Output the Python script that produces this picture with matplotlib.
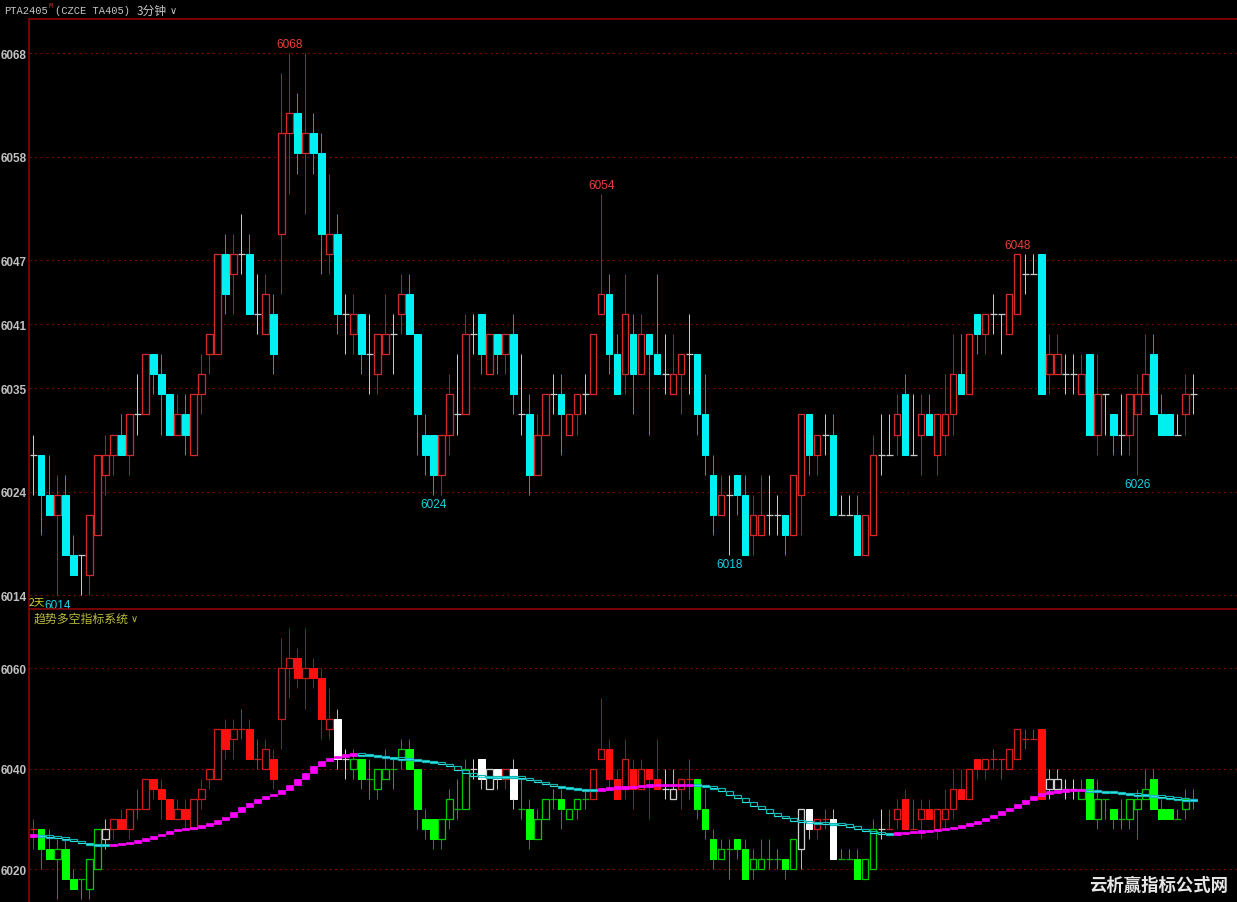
import matplotlib
matplotlib.use('Agg')
import matplotlib.pyplot as plt
from matplotlib.patches import Rectangle

W, H = 1237, 903

# ---- data (3 minute bars, PTA2405) ----
opens = [6028, 6028, 6024, 6022, 6024, 6018, 6018, 6016, 6020, 6026,
         6028, 6030, 6028, 6032, 6032, 6038, 6036, 6034, 6030, 6032,
         6028, 6034, 6038, 6038, 6048, 6046, 6048, 6048, 6042, 6040,
         6042, 6050, 6060, 6062, 6058, 6060, 6058, 6048, 6050, 6042,
         6040, 6042, 6038, 6036, 6038, 6040, 6042, 6044, 6040, 6030,
         6030, 6026, 6030, 6032, 6032, 6040, 6042, 6036, 6040, 6038,
         6040, 6032, 6032, 6026, 6030, 6034, 6034, 6030, 6032, 6034,
         6034, 6042, 6044, 6038, 6036, 6040, 6036, 6040, 6038, 6036,
         6034, 6036, 6038, 6038, 6032, 6026, 6022, 6024, 6026, 6024,
         6020, 6020, 6022, 6022, 6022, 6020, 6024, 6032, 6028, 6030,
         6030, 6022, 6022, 6022, 6018, 6020, 6028, 6028, 6030, 6034,
         6028, 6030, 6032, 6028, 6030, 6032, 6036, 6034, 6042, 6040,
         6042, 6042, 6040, 6042, 6046, 6046, 6048, 6036, 6036, 6036,
         6036, 6034, 6038, 6030, 6034, 6032, 6030, 6030, 6032, 6034,
         6038, 6032, 6032, 6030, 6032, 6034]
highs = [6030, 6028, 6028, 6026, 6026, 6020, 6018, 6022, 6028, 6030,
         6030, 6032, 6032, 6036, 6038, 6038, 6038, 6034, 6034, 6034,
         6034, 6038, 6040, 6048, 6050, 6050, 6052, 6050, 6046, 6046,
         6044, 6066, 6068, 6064, 6068, 6062, 6060, 6056, 6052, 6044,
         6044, 6042, 6042, 6040, 6044, 6042, 6046, 6046, 6040, 6032,
         6030, 6030, 6036, 6038, 6042, 6042, 6042, 6040, 6040, 6040,
         6042, 6038, 6034, 6032, 6034, 6036, 6036, 6032, 6034, 6036,
         6040, 6054, 6046, 6040, 6046, 6042, 6042, 6040, 6046, 6040,
         6040, 6038, 6042, 6038, 6036, 6028, 6026, 6026, 6026, 6026,
         6024, 6026, 6026, 6024, 6022, 6026, 6032, 6032, 6030, 6032,
         6032, 6024, 6024, 6024, 6022, 6030, 6032, 6032, 6034, 6036,
         6034, 6034, 6034, 6032, 6036, 6040, 6040, 6040, 6042, 6042,
         6044, 6042, 6044, 6048, 6048, 6048, 6048, 6040, 6040, 6038,
         6038, 6038, 6038, 6038, 6034, 6032, 6034, 6034, 6036, 6040,
         6040, 6034, 6032, 6032, 6036, 6036]
lows = [6024, 6020, 6022, 6014, 6018, 6016, 6014, 6014, 6020, 6024,
        6026, 6028, 6026, 6030, 6032, 6034, 6030, 6030, 6030, 6028,
        6028, 6032, 6036, 6038, 6042, 6042, 6046, 6042, 6040, 6040,
        6036, 6044, 6054, 6056, 6052, 6056, 6046, 6046, 6040, 6038,
        6038, 6036, 6034, 6034, 6038, 6036, 6040, 6040, 6028, 6026,
        6024, 6024, 6028, 6030, 6032, 6038, 6036, 6036, 6036, 6036,
        6032, 6030, 6024, 6026, 6030, 6032, 6028, 6030, 6030, 6032,
        6034, 6042, 6036, 6034, 6034, 6032, 6036, 6030, 6036, 6034,
        6034, 6032, 6034, 6030, 6026, 6020, 6022, 6018, 6022, 6018,
        6018, 6020, 6020, 6020, 6018, 6020, 6020, 6026, 6026, 6028,
        6022, 6022, 6022, 6018, 6018, 6020, 6026, 6028, 6028, 6028,
        6028, 6026, 6030, 6026, 6028, 6030, 6034, 6034, 6038, 6038,
        6040, 6038, 6040, 6042, 6044, 6046, 6034, 6034, 6036, 6034,
        6034, 6034, 6030, 6028, 6030, 6028, 6028, 6028, 6026, 6034,
        6032, 6030, 6030, 6030, 6030, 6032]
closes = [6028, 6024, 6022, 6024, 6018, 6016, 6018, 6022, 6028, 6028,
          6030, 6028, 6032, 6032, 6038, 6036, 6034, 6030, 6032, 6030,
          6034, 6036, 6040, 6048, 6044, 6048, 6048, 6042, 6042, 6044,
          6038, 6060, 6062, 6058, 6060, 6058, 6050, 6050, 6042, 6042,
          6042, 6038, 6038, 6040, 6040, 6040, 6044, 6040, 6032, 6028,
          6026, 6030, 6034, 6032, 6040, 6040, 6038, 6040, 6038, 6040,
          6034, 6032, 6026, 6030, 6034, 6034, 6032, 6032, 6034, 6034,
          6040, 6044, 6038, 6034, 6042, 6036, 6040, 6038, 6036, 6036,
          6036, 6038, 6038, 6032, 6028, 6022, 6024, 6024, 6024, 6018,
          6022, 6022, 6022, 6022, 6020, 6026, 6032, 6028, 6030, 6030,
          6022, 6022, 6022, 6018, 6022, 6028, 6028, 6028, 6032, 6028,
          6028, 6032, 6030, 6032, 6032, 6036, 6034, 6040, 6040, 6042,
          6042, 6042, 6044, 6048, 6046, 6046, 6034, 6038, 6038, 6036,
          6036, 6036, 6030, 6034, 6034, 6030, 6030, 6034, 6034, 6036,
          6032, 6030, 6030, 6030, 6034, 6034]

# indicator panel: trend state of each bar (r = long, g = short, w = neutral)
trend = ("rggggggggw" "rrrrrrrrrr" "rrrrrrrrrr" "rrrrrrrrww" "gggggggggg"
         "gggggwwwwr" "wggggggggg" "rrrrrrrrrw" "wrrggggggg" "ggggggwwrr"
         "wgggggwrrr" "rrrrrrrrrr" "rrrrrrrwww" "wggggggggg" "gggggg")

# indicator panel: trend line
trend_line = [6026.7, 6026.6, 6026.5, 6026.3, 6026.0, 6025.6, 6025.2, 6025.0, 6024.8, 6024.8,
              6024.9, 6025.1, 6025.4, 6025.7, 6026.1, 6026.6, 6027.1, 6027.7, 6027.9, 6028.1,
              6028.3, 6028.7, 6029.1, 6029.8, 6030.5, 6031.4, 6032.4, 6033.2, 6033.9, 6034.5,
              6035.0, 6035.7, 6036.7, 6038.0, 6039.2, 6040.5, 6041.5, 6042.1, 6042.6, 6042.8,
              6042.9, 6042.8, 6042.7, 6042.5, 6042.3, 6042.1, 6042.0, 6041.9, 6041.7, 6041.5,
              6041.3, 6040.9, 6040.5, 6039.7, 6039.1, 6038.6, 6038.4, 6038.4, 6038.4, 6038.4,
              6038.3, 6038.2, 6037.8, 6037.4, 6036.9, 6036.6, 6036.3, 6036.1, 6035.9, 6035.8,
              6035.8, 6035.9, 6036.2, 6036.3, 6036.3, 6036.5, 6036.6, 6036.7, 6036.8, 6036.8,
              6036.8, 6036.8, 6036.8, 6036.7, 6036.5, 6036.1, 6035.5, 6034.8, 6034.1, 6033.4,
              6032.6, 6032.0, 6031.3, 6030.7, 6030.2, 6029.7, 6029.4, 6029.3, 6029.2, 6029.1,
              6029.0, 6028.9, 6028.5, 6028.1, 6027.6, 6027.3, 6027.1, 6027.1, 6027.2, 6027.3,
              6027.5, 6027.6, 6027.7, 6027.9, 6028.1, 6028.4, 6028.7, 6029.1, 6029.6, 6030.2,
              6030.8, 6031.6, 6032.2, 6033.0, 6033.8, 6034.6, 6035.2, 6035.4, 6035.6, 6035.8,
              6035.8, 6035.8, 6035.6, 6035.5, 6035.4, 6035.3, 6035.1, 6035.0, 6034.8, 6034.7,
              6034.6, 6034.4, 6034.2, 6034.0, 6033.8, 6033.7]

# price axis of the main panel: golden section levels between low and high
range_lo, range_hi = 6014, 6068
fib_levels = [0, 0.191, 0.382, 0.5, 0.618, 0.809, 1.0]
fib_labels = ['6014', '6024', '6035', '6041', '6047', '6058', '6068']
sub_ticks = [6020, 6040, 6060]

high_marks = [(32, 6068), (71, 6054), (123, 6048)]
low_marks = [(3, 6014), (50, 6024), (87, 6018), (138, 6026)]

BG = 'black'
FRAME = '#8c0000'
GRID = '#7a0000'
AXTXT = '#c0c0c0'
px = 0.72  # one pixel in points at dpi 100


def draw_candles(ax, colors, width=0.8):
    # colors[i] = (body_up_edge, body_down_fill, wick, doji)
    for i, (o, h, l, c) in enumerate(zip(opens, highs, lows, closes)):
        up_edge, dn_fill, wick, flat = colors[i]
        top, bot = max(o, c), min(o, c)
        if c == o:
            wick = flat
        if h > top:
            ax.vlines(i, top, h, color=wick, lw=px)
        if l < bot:
            ax.vlines(i, l, bot, color=wick, lw=px)
        if c > o:
            ax.add_patch(Rectangle((i - width / 2, o), width, c - o, facecolor=BG,
                                   edgecolor=up_edge, lw=px * 1.3))
        elif c < o:
            ax.add_patch(Rectangle((i - width / 2, c), width, o - c, facecolor=dn_fill,
                                   edgecolor=dn_fill, lw=px))
        else:
            ax.hlines(o, i - width / 2, i + width / 2, color=flat, lw=px * 1.3)


def style_axes(ax):
    ax.set_facecolor(BG)
    for s in ['right', 'bottom']:
        ax.spines[s].set_visible(False)
    for s in ['left', 'top']:
        ax.spines[s].set_color(FRAME)
        ax.spines[s].set_linewidth(1.2)
    ax.set_xticks([])
    ax.tick_params(axis='y', length=0, pad=1.5, labelcolor=AXTXT, labelsize=8.5)
    for lab in ax.get_yticklabels():
        lab.set_fontweight('bold')
        lab.set_family('Liberation Sans')


fig = plt.figure(figsize=(W / 100, H / 100), dpi=100, facecolor=BG)
n = len(opens)
xlim = ((29 - 33.3) / 8, (W - 33.3) / 8)

# ---- main panel ----
ax1 = fig.add_axes([29 / W, 1 - 608 / H, 1 - 29 / W, (608 - 20) / H])
ax1.set_xlim(*xlim)
ax1.set_ylim(6012.82, 6071.39)
top_cols = [('#d42a2a', '#00f0f0', '#b01e1e' if c >= o else '#00a8a8', '#c8c8c8')
            for o, c in zip(opens, closes)]
draw_candles(ax1, top_cols)
lvls = [range_lo + f * (range_hi - range_lo) for f in fib_levels]
for v in lvls:
    ax1.axhline(v, color=GRID, lw=0.8, ls=(0, (2, 3)), zorder=0)
ax1.set_yticks(lvls)
ax1.set_yticklabels(fib_labels)
style_axes(ax1)

for i, v in high_marks:
    ax1.annotate(str(v), (i, v), xytext=(0, 2), textcoords='offset points',
                 ha='center', va='bottom', color='#e8403c', fontsize=8.5,
                 family='Liberation Sans')
for i, v in low_marks:
    ax1.annotate(str(v), (i, v), xytext=(0, -2.5), textcoords='offset points',
                 ha='center', va='top', color='#19d2e0', fontsize=8.5,
                 family='Liberation Sans', zorder=6)

# ---- indicator panel ----
ax2 = fig.add_axes([29 / W, 0, 1 - 29 / W, (H - 610) / H])
ax2.set_xlim(*xlim)
ax2.set_ylim(6013.5, 6071.8)
palette = {'r': ('#c81e1e', '#ff1010', '#a01414', '#c81e1e'),
           'g': ('#00c800', '#00ff00', '#00a000', '#00b400'),
           'w': ('#d0d0d0', '#ffffff', '#b4b4b4', '#d0d0d0')}
draw_candles(ax2, [palette[t] for t in trend])
for v in sub_ticks:
    ax2.axhline(v, color=GRID, lw=0.8, ls=(0, (2, 3)), zorder=0)
ax2.set_yticks(sub_ticks)
ax2.set_yticklabels([str(v) for v in sub_ticks])
style_axes(ax2)

rising = True
for i in range(n):
    prev = trend_line[i - 1] if i > 0 else trend_line[0]
    cur = trend_line[i]
    if cur > prev:
        rising = True
    elif cur < prev:
        rising = False
    lo, hi = min(prev, cur), max(prev, cur)
    if rising:
        pad = max(0.0, (0.5 - (hi - lo)) / 2)
        ax2.add_patch(Rectangle((i - 0.42, lo - pad), 0.84, hi - lo + 2 * pad,
                                facecolor='#ff00ff', edgecolor='#ff00ff', lw=0.5, zorder=5))
    else:
        pad = max(0.0, (0.45 - (hi - lo)) / 2)
        ax2.add_patch(Rectangle((i - 0.42, lo - pad), 0.84, hi - lo + 2 * pad,
                                facecolor='none', edgecolor='#12b4b4', lw=px * 1.2, zorder=5))
        ax2.hlines(cur, i - 0.42, i + 0.42, color='#30e0e0', lw=px, zorder=5)

# ---- texts ----
def ftext(x, y, s, **kw):
    fig.text(x / W, 1 - y / H, s, **kw)

mono = ['Liberation Mono', 'Noto Sans CJK SC', 'DejaVu Sans']
cjk = ['Noto Sans CJK SC', 'DejaVu Sans']
ftext(4, 11, 'PTA2405', color='#c8c8c8', fontsize=7.5, family=mono, va='center')
ftext(48, 7, 'M', color='#e03030', fontsize=5, family=mono, va='center')
ftext(55, 11, '(CZCE TA405)', color='#c8c8c8', fontsize=7.5, family=mono, va='center')
ftext(137, 11, '3分钟', color='#c8c8c8', fontsize=8.5, family=cjk, va='center')
ftext(170, 11, '∨', color='#c8c8c8', fontsize=7, family=['DejaVu Sans'], va='center')
ftext(29, 602, '2天', color='#d2d232', fontsize=7.5, family=cjk, va='center', zorder=1)
ftext(34, 619, '趋势多空指标系统', color='#b9b93c', fontsize=8.6, family=cjk, va='center')
ftext(131, 619, '∨', color='#b9b93c', fontsize=7, family=['DejaVu Sans'], va='center')
ftext(1228, 886, '云析赢指标公式网', color='#e6e6e6', fontsize=12.5, fontweight='bold',
      family=cjk, ha='right', va='center')

fig.savefig('out.png', dpi=100, facecolor=BG)
